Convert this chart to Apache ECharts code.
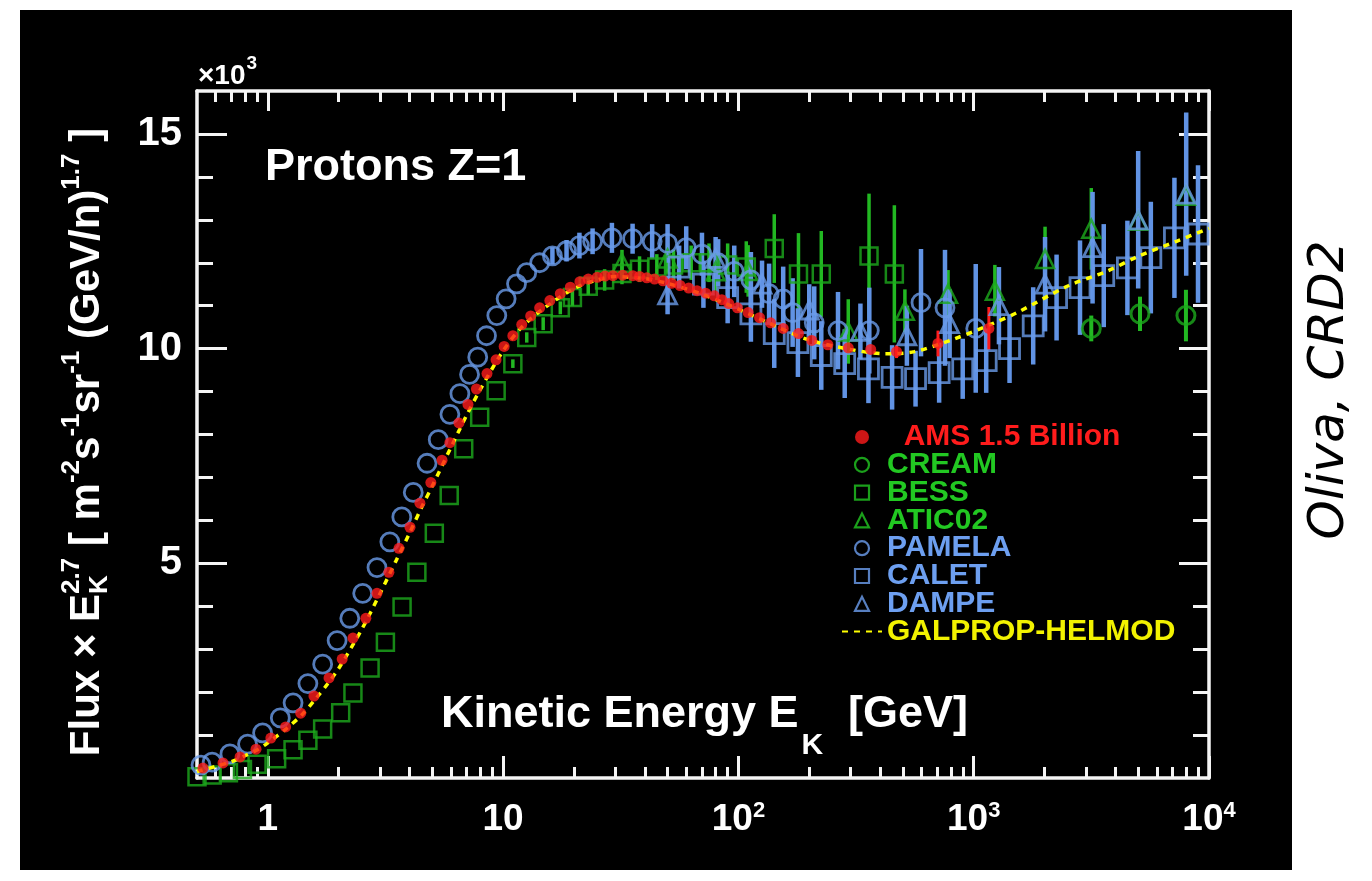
<!DOCTYPE html>
<html><head><meta charset="utf-8">
<script src="https://cdn.jsdelivr.net/npm/echarts@6/dist/echarts.min.js"></script>
<style>html,body{margin:0;padding:0;background:#fff}#c{width:1372px;height:881px}</style>
</head><body><div id="c"></div>
<script>
// ---------------- data ----------------
const amsE = [0.53,0.645,0.762,0.891,1.03,1.19,1.38,1.57,1.82,2.07,2.30,2.61,2.91,3.27,3.61,4.02,4.43,4.93,5.5,5.94,6.49,7.09,7.7,8.54,9.33,10.1,11.0,12.0,13.1,14.3,15.8,17.5,19.3,21.2,23.0,25.1,27.1,29.3,32.2,35.6,38.0,40.8,44.0,47.8,52.0,56.5,61.5,66.7,72.6,79,85,91,99,110,123,137,155,180,205,240,293,365,470,705,1160];
const amsV = [0.23,0.35,0.49,0.67,0.93,1.19,1.51,1.91,2.33,2.77,3.26,3.72,4.30,4.79,5.35,5.84,6.40,6.88,7.40,7.81,8.27,8.70,9.06,9.42,9.74,10.05,10.30,10.56,10.76,10.95,11.12,11.28,11.43,11.56,11.62,11.66,11.69,11.70,11.71,11.70,11.68,11.65,11.62,11.58,11.52,11.47,11.41,11.35,11.29,11.23,11.14,11.05,10.95,10.84,10.72,10.60,10.47,10.35,10.19,10.09,10.02,9.98,9.93,10.12,10.47];
const amsErr = [0,0,0,0,0,0,0,0,0,0, 0,0,0,0,0,0,0,0,0,0, 0,0,0,0,0,0,0,0,0,0, 0,0,0,0,0,0,0,0,0,0, 0,0,0,0,0,0,0,0,0,0, 0,0,0,0,0,0,0,0,0,0, 0,0,0.15,0.3,0.5];

const pamE = [0.52,0.58,0.69,0.82,0.95,1.13,1.28,1.48,1.71,1.97,2.23,2.53,2.91,3.3,3.71,4.15,4.75,5.3,5.94,6.55,7.2,7.8,8.5,9.4,10.3,11.4,12.6,14.3,16.2,18.6,21.1,24,29,35.5,43,50,60,70,82,96,113,135,155,170,210,265,360,597,755,1020];
const pamV = [0.3,0.37,0.56,0.79,1.05,1.4,1.75,2.2,2.65,3.2,3.72,4.3,4.9,5.5,6.08,6.65,7.33,7.88,8.47,8.95,9.4,9.8,10.3,10.77,11.16,11.51,11.77,12.0,12.16,12.28,12.4,12.5,12.58,12.56,12.5,12.45,12.35,12.2,12.0,11.8,11.6,11.28,11.16,10.84,10.6,10.42,10.42,11.07,10.95,10.47];
const pamErr = [0,0,0,0,0,0,0,0,0,0, 0,0,0,0,0,0,0,0,0,0, 0,0,0,0,0,0,0,0, 0.2,0.25,0.3,0.3,0.35,0.35,0.4,0.45,0.5,0.5,0.55,0.6,0.65,0.7,0.75,0.8,0.85,0.9,1.0,1.25,1.35,1.5];

const bessE = [0.5,0.58,0.68,0.78,0.9,1.09,1.28,1.48,1.71,2.04,2.3,2.72,3.16,3.72,4.3,5.1,5.9,6.8,7.95,9.34,11.0,12.6,14.8,17.5,19.7,23,27,32,38,45,53,63,75,90,108,142,180,225,359,460];
const bessV = [0.03,0.07,0.12,0.2,0.32,0.45,0.66,0.88,1.14,1.52,1.98,2.56,3.16,3.98,4.79,5.7,6.58,7.67,8.4,9.02,9.65,10.26,10.58,10.95,11.19,11.45,11.6,11.75,11.85,11.9,11.95,12.0,12.0,11.95,11.9,12.33,11.74,11.74,12.16,11.74];
const bessErr = [0,0,0,0,0,0,0,0,0,0, 0,0,0,0,0,0,0,0,0,0, 0.1,0.12,0.15,0.15,0.2,0.2,0.25,0.25,0.3,0.3,0.35,0.4,0.45,0.5,0.6,0.8,0.95,1.0,1.45,1.6];

const aticE = [32,50,80,110,293,510,778,1230,2010,3160,5000,7980];
const aticV = [12.0,12.1,11.8,11.81,10.4,10.88,11.28,11.35,12.09,12.79,12.98,13.56];
const aticErr = [0.3,0.35,0.45,0.6,0.75,0.5,0.55,0.6,0.75,0.95,1.0,1.3];

const creamE = [3160,5090,7980];
const creamV = [10.47,10.81,10.77];
const creamErr = [0.3,0.4,0.6];

const calE = [56,71,90,113,142,179,225,283,357,450,566,713,898,1130,1420,1790,2250,2830,3570,4500,5660,7130,8980];
const calV = [11.9,11.5,11.19,10.81,10.35,10.14,9.84,9.65,9.53,9.33,9.3,9.44,9.53,9.72,10.0,10.53,11.19,11.42,11.7,11.88,12.12,12.58,12.67];
const calErr = [0.5,0.55,0.6,0.65,0.8,0.8,0.8,0.8,0.8,0.75,0.65,0.7,0.7,0.75,0.8,0.9,1.0,1.1,1.2,1.1,1.3,1.4,1.6];

const dampE = [50,80,126,200,330,520,790,1280,2010,3200,5000,8000];
const dampV = [11.25,12.1,11.5,10.9,10.4,10.3,10.58,11.0,11.5,12.35,13.0,13.6];
const dampErr = [0.45,0.5,0.55,0.6,0.65,0.7,0.8,0.9,1.1,1.3,1.6,1.9];

const galE = [0.5,0.6,0.7,0.8,0.9,1,1.2,1.4,1.6,1.8,2,2.5,3,3.5,4,4.5,5,6,7,8,10,12,15,20,25,30,40,50,70,100,150,200,300,420,560,830,1200,1530,2540,3680,5000,7270,10000];
const galV = [0.15,0.27,0.38,0.52,0.65,0.82,1.15,1.48,1.85,2.2,2.55,3.45,4.3,5.05,5.7,6.3,6.8,7.7,8.45,9.05,9.95,10.5,10.95,11.4,11.6,11.68,11.63,11.52,11.27,10.92,10.48,10.2,9.98,9.88,9.93,10.23,10.58,10.84,11.47,11.8,12.15,12.5,12.8];

const xTickVals = [1,10,100,1000,10000];
const xTickBase = ['1','10','10','10','10'];
const xTickExp  = ['','','2','3','4'];
const xMinorVals = [0.6,0.7,0.8,0.9,2,3,4,5,6,7,8,9,20,30,40,50,60,70,80,90,200,300,400,500,600,700,800,900,2000,3000,4000,5000,6000,7000,8000,9000];
const yTickVals = [5,10,15];
const yTickLabels = ['5','10','15'];
const yMinorVals = [1,2,3,4,6,7,8,9,11,12,13,14];

const seriesNames = ['AMS 1.5 Billion','CREAM','BESS','ATIC02','PAMELA','CALET','DAMPE','GALPROP-HELMOD'];

// ---------------- styling ----------------
const FONT = '"Liberation Sans", Arial, Helvetica, sans-serif';
const RED = '#ff1c1c', GREEN = '#1daa1d', GREEN_BAR = '#22b822', GREEN_T = '#22c822';
const BLUE = '#6a9be8', BLUE_BAR = '#6193e4', BLUE_T = '#6d9ff0', YEL = '#ffff00', YEL_T = '#f2f200';
const WHITE = '#f4f4f4';
const ICON_SQ = 'path://M0,0L10,0L10,10L0,10Z';
const ICON_TRI = 'path://M5,0L10,10L0,10Z';

const pts = (E, V) => E.map((e, i) => [e, V[i]]);

function errSeries(E, V, Err, color, width, z) {
  const data = [];
  for (let i = 0; i < E.length; i++) if (Err[i] > 0) data.push([E[i], V[i] - Err[i], Math.min(16, V[i] + Err[i])]);
  return {
    type: 'custom', xAxisIndex: 0, yAxisIndex: 0, data, z, silent: true,
    encode: { x: 0, y: [1, 2] },
    renderItem(params, api) {
      const a = api.coord([api.value(0), api.value(1)]);
      const b = api.coord([api.value(0), api.value(2)]);
      return { type: 'line', shape: { x1: a[0], y1: a[1], x2: b[0], y2: b[1] }, style: { stroke: color, lineWidth: width } };
    }
  };
}

function hollow(color, w) { return { color: 'rgba(0,0,0,0)', borderColor: color, borderWidth: w }; }

const mctx = document.createElement('canvas').getContext('2d');
function tw(text, size) { mctx.font = 'bold ' + size + 'px ' + FONT; return mctx.measureText(text).width; }
function txt(text, x, y, size, color, extra) {
  return Object.assign({
    type: 'text', x: x, y: y, z: 100, silent: true,
    style: { text: text, fill: color || '#fff', font: 'bold ' + size + 'px ' + FONT,
             textAlign: 'left', textVerticalAlign: 'middle', align: 'left', verticalAlign: 'middle' }
  }, extra || {});
}

function yTitle() {
  const M = 42, S = 26;
  const parts = [
    ['Flux \u00d7 E', 'm'], ['2.7', 'sup', true], ['K', 'sub'], [' [ m', 'm'], ['-2', 'sup'], ['s', 'm'],
    ['-1', 'sup'], ['sr', 'm'], ['-1', 'sup'], [' (GeV/n)', 'm'], ['1.7', 'sup'], [' ]', 'm']
  ];
  const items = []; let x = 0;
  for (let i = 0; i < parts.length; i++) {
    const [t, k, stack] = parts[i];
    const size = k === 'm' ? M : S;
    const y = k === 'sup' ? -15 : (k === 'sub' ? 13 : 0);
    items.push({ t, x, y, size });
    const w = tw(t, size);
    if (stack) continue;
    if (i > 0 && parts[i - 1][2]) x += Math.max(w, tw(parts[i - 1][0], S));
    else x += w;
  }
  const total = x;
  const children = items.map(it => txt(it.t, it.x - total / 2, it.y, it.size, '#fff'));
  return { type: 'group', x: 87, y: 442, rotation: Math.PI / 2, children };
}

function xTitle() {
  const x0 = 441, w1 = tw('Kinetic Energy E', 45);
  return { type: 'group', children: [
    txt('Kinetic Energy E', x0, 715, 45, '#fff'),
    txt('K', x0 + w1 + 3, 746, 30, '#fff'),
    txt('[GeV]', 848, 715, 45, '#fff')
  ]};
}

function mult() {
  const w = tw('\u00d710', 28);
  return { type: 'group', children: [
    txt('\u00d710', 198, 76, 28, '#fff'),
    txt('3', 198 + w + 1, 64, 19, '#fff')
  ]};
}

const chart = echarts.init(document.getElementById('c'), null, { renderer: 'canvas' });

const xFmt = v => {
  const i = xTickVals.findIndex(t => Math.abs(t - v) / t < 1e-6);
  if (i < 0) return '';
  return xTickExp[i] ? '{b|' + xTickBase[i] + '}{s|' + xTickExp[i] + '}' : '{b|' + xTickBase[i] + '}';
};
const yFmt = v => { const i = yTickVals.indexOf(Math.round(v)); return i < 0 ? '' : yTickLabels[i]; };

function xAx(pos, vals, len, showLine, showLabel) {
  return {
    type: 'log', logBase: 10, min: 0.5, max: 10000, position: pos, gridIndex: 0,
    axisLine: { show: showLine, onZero: false, lineStyle: { color: WHITE, width: 3.5 } },
    axisTick: { show: true, inside: true, length: len, customValues: vals, lineStyle: { color: WHITE, width: 3 } },
    axisLabel: showLabel ? {
      show: true, customValues: xTickVals, margin: 22, formatter: xFmt,
      rich: {
        b: { fontSize: 37, fontWeight: 'bold', fontFamily: FONT, color: '#fff', lineHeight: 40 },
        s: { fontSize: 22, fontWeight: 'bold', fontFamily: FONT, color: '#fff', lineHeight: 12, verticalAlign: 'top' }
      }
    } : { show: false },
    splitLine: { show: false }, minorTick: { show: false }, minorSplitLine: { show: false }
  };
}
function yAx(pos, vals, len, showLine, showLabel) {
  return {
    type: 'value', min: 0, max: 16, position: pos, gridIndex: 0,
    axisLine: { show: showLine, onZero: false, lineStyle: { color: WHITE, width: 3.5 } },
    axisTick: { show: true, inside: true, length: len, customValues: vals, lineStyle: { color: WHITE, width: 3 } },
    axisLabel: showLabel ? { show: true, customValues: yTickVals, margin: 15, formatter: yFmt,
      fontSize: 40, fontWeight: 'bold', fontFamily: FONT, color: '#fff' } : { show: false },
    splitLine: { show: false }, minorTick: { show: false }
  };
}

const legendData = [
  { name: seriesNames[0], icon: 'circle', itemStyle: { color: RED, borderWidth: 0 }, textStyle: { color: RED } },
  { name: seriesNames[1], icon: 'circle', itemStyle: hollow(GREEN_T, 2.2), textStyle: { color: GREEN_T } },
  { name: seriesNames[2], icon: ICON_SQ, itemStyle: hollow(GREEN_T, 2.2), textStyle: { color: GREEN_T } },
  { name: seriesNames[3], icon: ICON_TRI, itemStyle: hollow(GREEN_T, 2.2), textStyle: { color: GREEN_T } },
  { name: seriesNames[4], icon: 'circle', itemStyle: hollow(BLUE_T, 2.2), textStyle: { color: BLUE_T } },
  { name: seriesNames[5], icon: ICON_SQ, itemStyle: hollow(BLUE_T, 2.2), textStyle: { color: BLUE_T } },
  { name: seriesNames[6], icon: ICON_TRI, itemStyle: hollow(BLUE_T, 2.2), textStyle: { color: BLUE_T } },
  { name: seriesNames[7], itemStyle: { color: 'rgba(0,0,0,0)', borderWidth: 0 }, textStyle: { color: YEL_T } }
];

const option = {
  animation: false,
  backgroundColor: '#ffffff',
  textStyle: { fontFamily: FONT },
  grid: { left: 197, right: 163, top: 91, bottom: 103, containLabel: false, outerBoundsMode: 'none' },
  xAxis: [
    xAx('bottom', xTickVals, 22, true, true),
    xAx('bottom', xMinorVals, 11, false, false),
    xAx('top', xTickVals, 20, true, false),
    xAx('top', xMinorVals, 11, false, false)
  ],
  yAxis: [
    yAx('left', yTickVals, 30, true, true),
    yAx('left', yMinorVals, 16, false, false),
    yAx('right', yTickVals, 30, true, false),
    yAx('right', yMinorVals, 16, false, false)
  ],
  legend: {
    orient: 'vertical', left: 836, top: 417, itemWidth: 40, itemHeight: 14, itemGap: -2.2,
    selectedMode: false, symbolKeepAspect: true, data: legendData,
    formatter: n => n === seriesNames[0] ? '  ' + n : n,
    textStyle: { fontSize: 30, fontWeight: 'bold', fontFamily: FONT }
  },
  graphic: [
    { type: 'rect', shape: { x: 20, y: 10, width: 1272, height: 860 }, style: { fill: '#000' }, z: -100, silent: true },
    mult(),
    txt('Protons Z=1', 265, 168, 45, '#fff'),
    xTitle(),
    yTitle(),
    { type: 'text', x: 1330, y: 390, rotation: Math.PI / 2, z: 100, silent: true,
      style: { text: 'Oliva, CRD2', fill: '#000', font: 'italic 50px "DejaVu Sans", sans-serif',
               textAlign: 'center', textVerticalAlign: 'middle', align: 'center', verticalAlign: 'middle' } }
  ],
  series: [
    errSeries(bessE, bessV, bessErr, GREEN_BAR, 3.5, 2),
    errSeries(aticE, aticV, aticErr, GREEN_BAR, 3.5, 2),
    errSeries(creamE, creamV, creamErr, GREEN_BAR, 4, 2),
    errSeries(calE, calV, calErr, BLUE_BAR, 4.5, 2),
    errSeries(dampE, dampV, dampErr, BLUE_BAR, 4.5, 2),
    errSeries(pamE, pamV, pamErr, BLUE_BAR, 4.5, 2),
    errSeries(amsE, amsV, amsErr, RED, 3, 2),
    { name: seriesNames[2], type: 'scatter', data: pts(bessE, bessV), symbol: 'rect', symbolSize: 17, itemStyle: hollow(GREEN, 2.5), z: 3 },
    { name: seriesNames[3], type: 'scatter', data: pts(aticE, aticV), symbol: 'triangle', symbolSize: 18, itemStyle: hollow(GREEN, 2.5), z: 3 },
    { name: seriesNames[1], type: 'scatter', data: pts(creamE, creamV), symbol: 'circle', symbolSize: 18, itemStyle: hollow(GREEN, 3), z: 3 },
    { name: seriesNames[5], type: 'scatter', data: pts(calE, calV), symbol: 'rect', symbolSize: 20, itemStyle: hollow(BLUE, 2.8), z: 4 },
    { name: seriesNames[6], type: 'scatter', data: pts(dampE, dampV), symbol: 'triangle', symbolSize: 18, itemStyle: hollow(BLUE, 2.8), z: 4 },
    { name: seriesNames[4], type: 'scatter', data: pts(pamE, pamV), symbol: 'circle', symbolSize: 18, itemStyle: hollow(BLUE, 2.8), z: 4 },
    { name: seriesNames[7], type: 'line', data: pts(galE, galV), showSymbol: false, symbol: 'none', smooth: 0.3,
      lineStyle: { color: YEL, width: 3.5, type: [6, 6] }, itemStyle: { color: YEL }, z: 5 },
    { name: seriesNames[0], type: 'scatter', data: pts(amsE, amsV), symbol: 'circle', symbolSize: 11, itemStyle: { color: RED }, z: 6 }
  ]
};
chart.setOption(option);
</script></body></html>
